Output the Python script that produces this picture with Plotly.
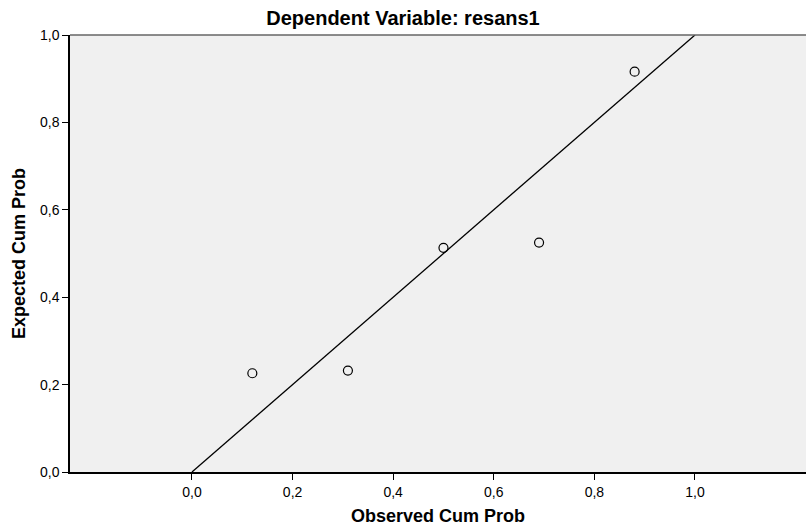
import plotly.graph_objects as go

observed = [0.12, 0.31, 0.50, 0.69, 0.88]
expected = [0.226, 0.232, 0.513, 0.525, 0.916]
ref_line_x = [0.0, 1.0]
ref_line_y = [0.0, 1.0]
tick_vals = [0.0, 0.2, 0.4, 0.6, 0.8, 1.0]
tick_text = ["0,0", "0,2", "0,4", "0,6", "0,8", "1,0"]

font_fam = "Liberation Sans, Arial"

fig = go.Figure()
fig.add_trace(go.Scatter(x=ref_line_x, y=ref_line_y, mode="lines",
                         line=dict(color="black", width=1.3), hoverinfo="skip"))
fig.add_trace(go.Scatter(x=observed, y=expected, mode="markers",
                         marker=dict(symbol="circle-open", size=9,
                                     color="black", line=dict(width=1.2))))

fig.update_layout(
    width=806, height=527,
    margin=dict(l=70, r=0, t=35, b=55),
    paper_bgcolor="white", plot_bgcolor="#f0f0f0",
    showlegend=False,
    title=dict(text="<b>Dependent Variable: resans1</b>", x=0.5, xanchor="center",
               y=1 - 18/527, yanchor="middle",
               font=dict(family=font_fam, size=20, color="black")),
    xaxis=dict(range=[-0.2425, 1.2207], tickvals=tick_vals, ticktext=tick_text,
               showgrid=False, zeroline=False, showline=True, linecolor="black",
               linewidth=1.5, ticks="outside", ticklen=6, tickcolor="black",
               tickfont=dict(family=font_fam, size=14, color="black"),
               title=dict(text="<b>Observed Cum Prob</b>", standoff=11,
                          font=dict(family=font_fam, size=18, color="black"))),
    yaxis=dict(range=[0, 1], tickvals=tick_vals, ticktext=tick_text,
               showgrid=False, zeroline=False, showline=True, linecolor="black",
               linewidth=1.5, ticks="outside", ticklen=6, tickcolor="black",
               tickfont=dict(family=font_fam, size=14, color="black"),
               title=dict(text="<b>Expected Cum Prob</b>", standoff=10,
                          font=dict(family=font_fam, size=18, color="black"))),
    shapes=[dict(type="line", xref="paper", yref="paper", x0=0, x1=1, y0=1, y1=1,
                 line=dict(color="#666666", width=1.5))],
)

fig.write_html("out.html")
